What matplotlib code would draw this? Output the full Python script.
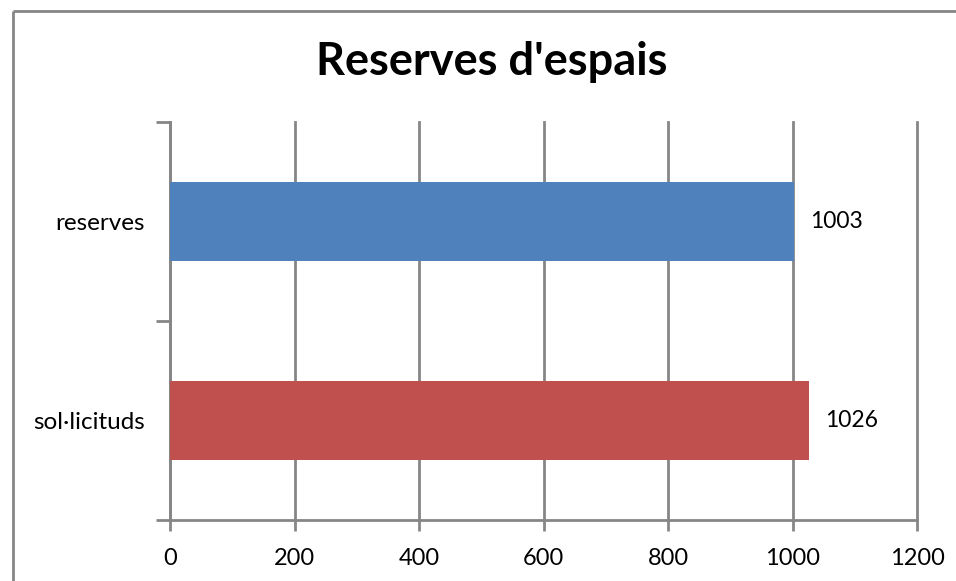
import matplotlib
matplotlib.use('Agg')
import matplotlib.pyplot as plt
from matplotlib.lines import Line2D

categories = ['sol·licituds', 'reserves']
values = [1026, 1003]
colors = ['#C0504D', '#4F81BD']
xticks = [0, 200, 400, 600, 800, 1000, 1200]
title = "Reserves d'espais"

plt.rcParams['font.family'] = ['Lato', 'DejaVu Sans']
grey = '#868686'

fig = plt.figure(figsize=(9.56, 5.81), dpi=100)
ax = fig.add_axes([170/956, 1 - 520/581, (917 - 170)/956, (520 - 122)/581])

pos = [0, 1]
ax.barh(pos, values, height=0.4, color=colors, zorder=3)
for p, v in zip(pos, values):
    ax.text(v + 26, p, str(v), va='center', ha='left', fontsize=16.5)

ax.set_xlim(0, 1200)
ax.set_ylim(-0.5, 1.5)
ax.set_xticks(xticks)
ax.set_xticklabels([str(t) for t in xticks], fontsize=17)
ax.set_yticks(pos)
ax.set_yticklabels(categories, fontsize=17.5)
ax.set_yticks([-0.5, 0.5, 1.5], minor=True)
ax.tick_params(axis='y', which='major', length=0, pad=18)
ax.tick_params(axis='y', which='minor', length=10, width=2, color=grey)
ax.tick_params(axis='x', length=8, width=2, color=grey, pad=12)
ax.grid(axis='x', color=grey, linewidth=2, zorder=0)
for gl in ax.get_xgridlines():
    gl.set_clip_on(False)
for s in ['top', 'right']:
    ax.spines[s].set_visible(False)
for s in ['left', 'bottom']:
    ax.spines[s].set_color(grey)
    ax.spines[s].set_linewidth(2)

fig.text(492/956, 1 - 62/581, title, ha='center', va='center',
         fontsize=32.5, fontweight='bold')

# outer chart frame: only its left and top edges fall inside the image
x0, y0 = 13/956, 1 - 11/581
fig.add_artist(Line2D([x0, x0], [-0.05, y0], transform=fig.transFigure,
                      color=grey, linewidth=2, solid_capstyle='butt'))
fig.add_artist(Line2D([x0, 1.05], [y0, y0], transform=fig.transFigure,
                      color=grey, linewidth=2, solid_capstyle='butt'))

fig.savefig('out.png', dpi=100)
